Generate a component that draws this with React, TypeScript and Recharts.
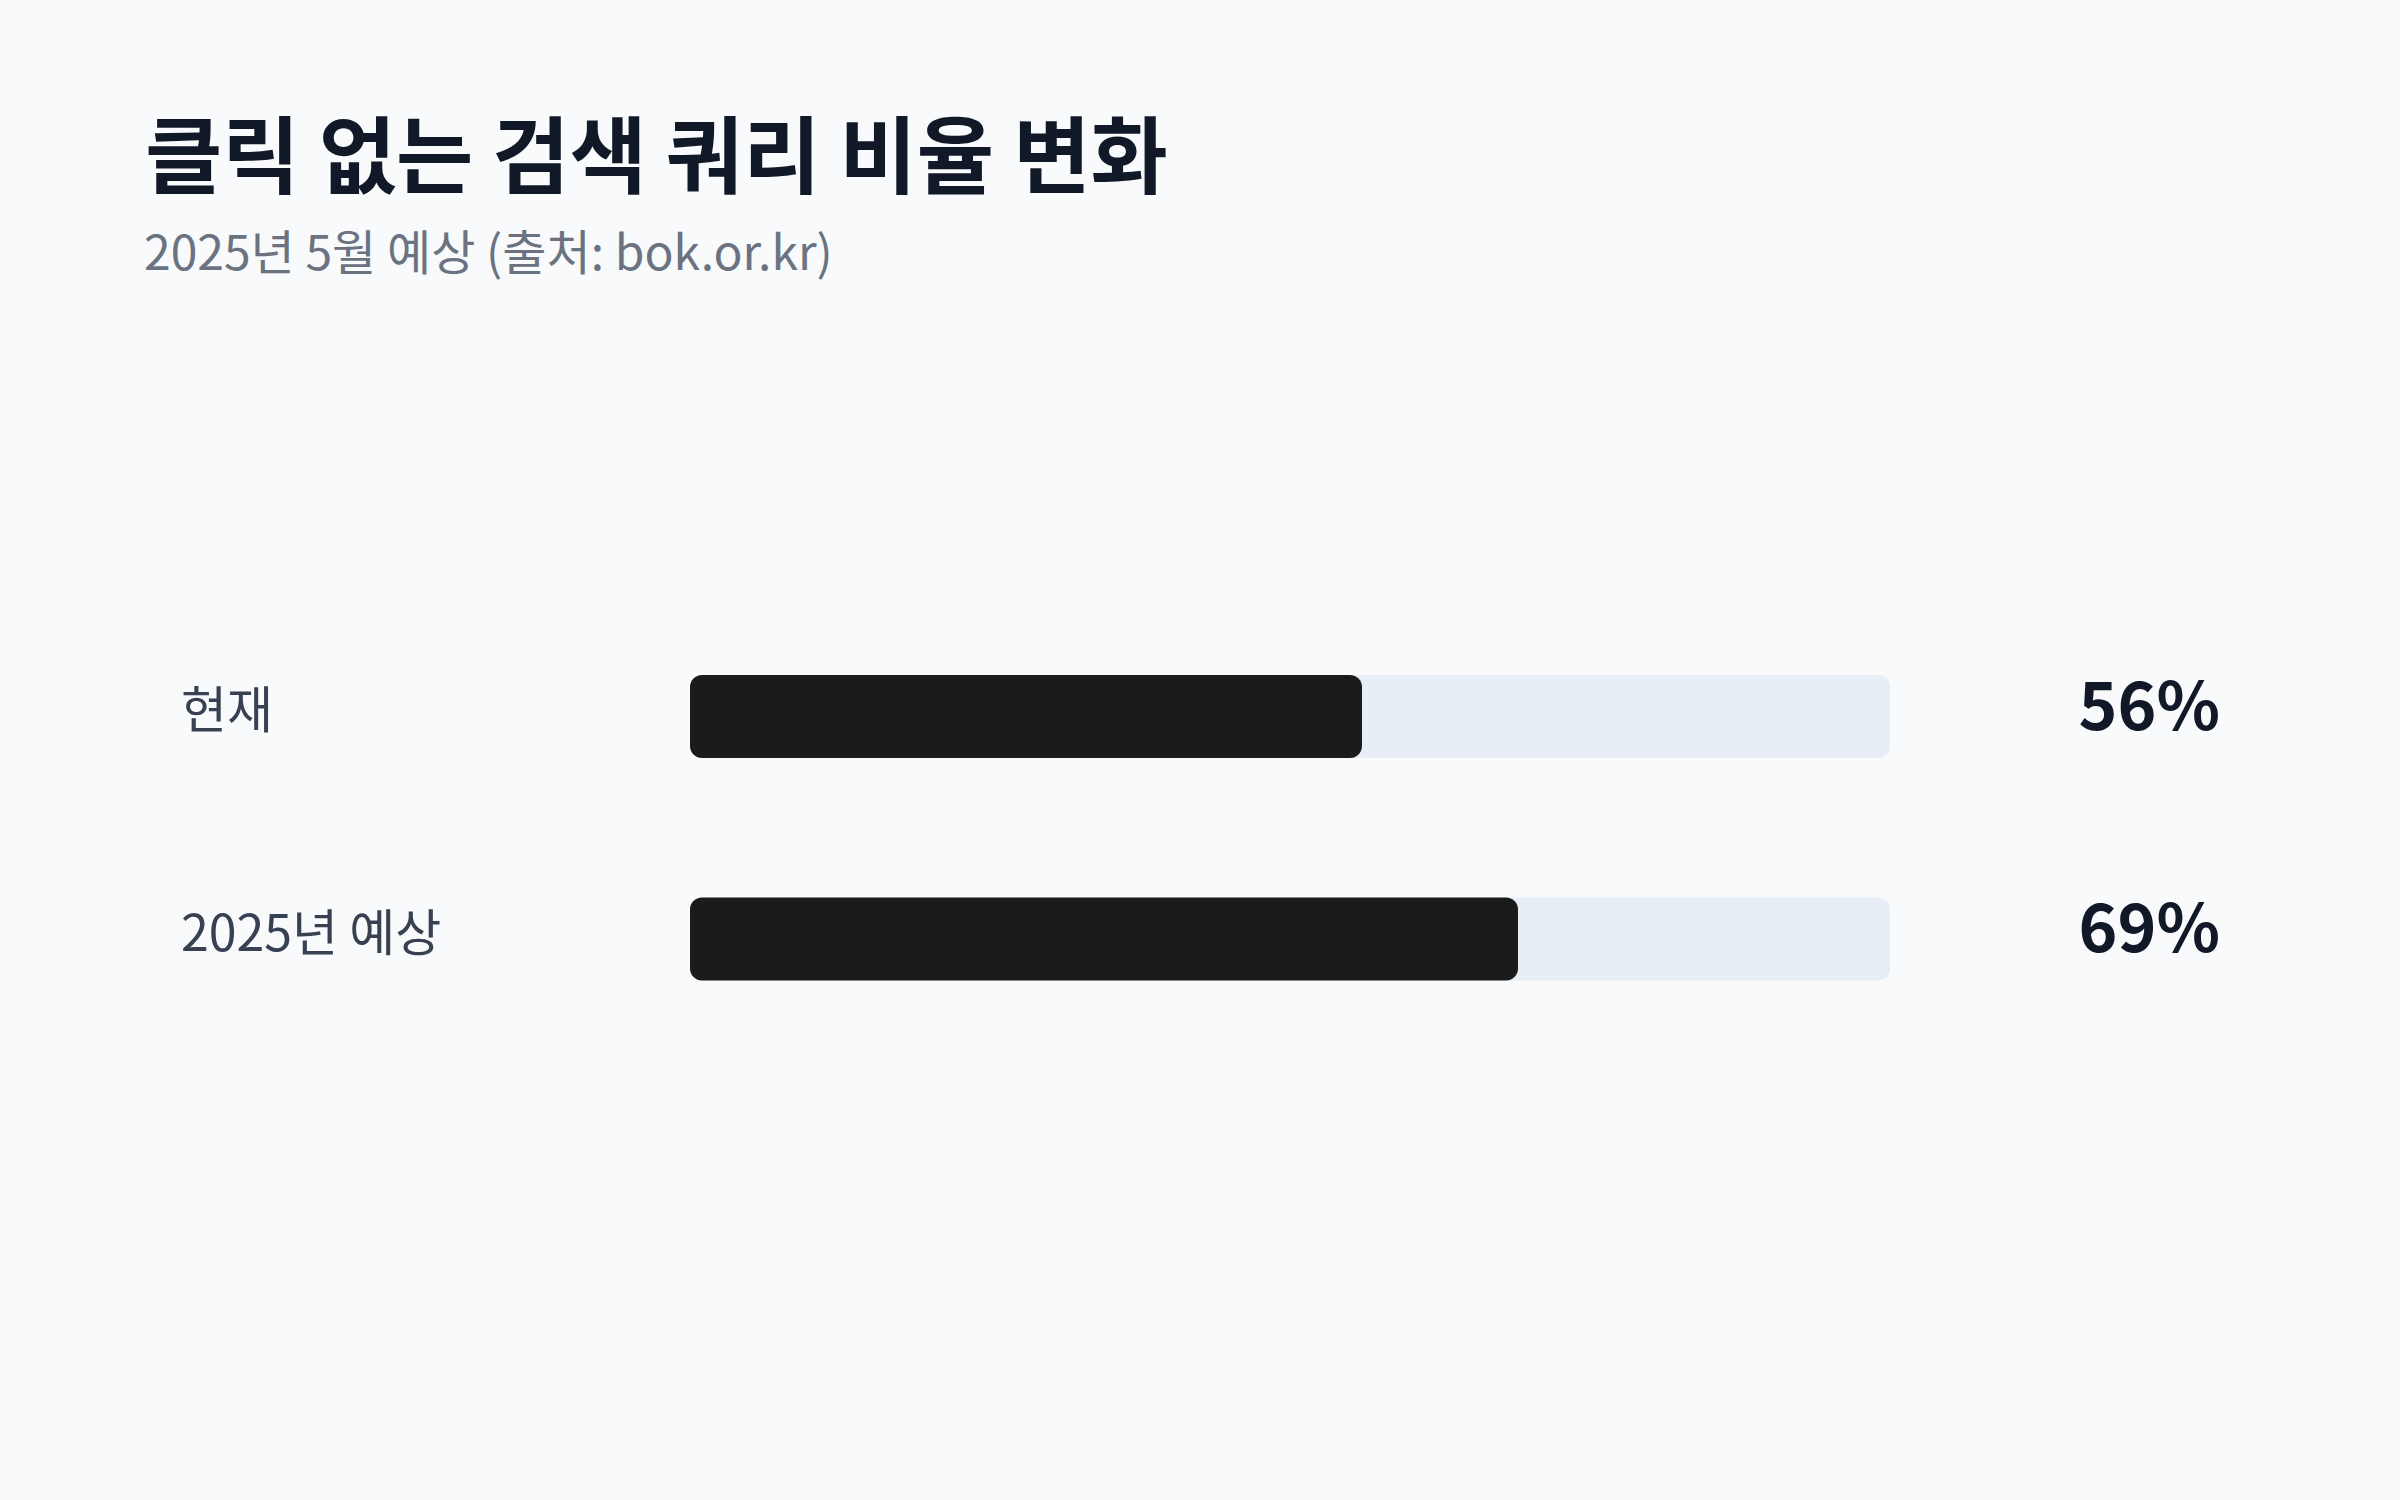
import { BarChart, Bar, XAxis, YAxis, LabelList } from "recharts";

const title = "클릭 없는 검색 쿼리 비율 변화";
const subtitle = "2025년 5월 예상 (출처: bok.or.kr)";
const categories = ["현재", "2025년 예상"];
const values = [56, 69];

const data = categories.map((name, i) => ({ name, value: values[i] }));

const FONT = '"Noto Sans CJK KR", "Noto Sans", sans-serif';

function CategoryTick(props: any) {
  const { y, payload } = props;
  return (
    <text x={181} y={y} dy={12} textAnchor="start" fill="#374151" fontSize={50} fontFamily={FONT}>
      {payload.value}
    </text>
  );
}

function ValueLabel(props: any) {
  const { y, height, value } = props;
  return (
    <text
      x={2220}
      y={y + height / 2}
      dy={13}
      textAnchor="end"
      fill="#111827"
      fontSize={66}
      fontWeight={700}
      fontFamily={FONT}
    >
      {value}%
    </text>
  );
}

export default function App() {
  return (
    <div
      style={{
        position: "fixed",
        left: 0,
        top: 0,
        width: 2400,
        height: 1500,
        background: "#f8fafc",
        fontFamily: FONT,
      }}
    >
      <svg width={2400} height={300} style={{ position: "absolute", left: 0, top: 0 }}>
        <text x={145} y={187} fill="#111827" fontSize={84} fontWeight={700} fontFamily={FONT}>
          {title}
        </text>
        <text x={144} y={270} fill="#6b7280" fontSize={48} fontFamily={FONT}>
          {subtitle}
        </text>
      </svg>
      <div style={{ position: "absolute", left: 0, top: 0 }}>
        <BarChart
          layout="vertical"
          width={2400}
          height={1500}
          data={data}
          margin={{ top: 605, right: 510, bottom: 450, left: 0 }}
        >
          <XAxis type="number" domain={[0, 100]} hide />
          <YAxis
            type="category"
            dataKey="name"
            width={690}
            axisLine={false}
            tickLine={false}
            tick={<CategoryTick />}
          />
          <Bar
            dataKey="value"
            fill="#1b1b1b"
            barSize={83}
            radius={12}
            background={{ fill: "#e8eef5", radius: 12 }}
            isAnimationActive={false}
          >
            <LabelList dataKey="value" content={<ValueLabel />} />
          </Bar>
        </BarChart>
      </div>
    </div>
  );
}
